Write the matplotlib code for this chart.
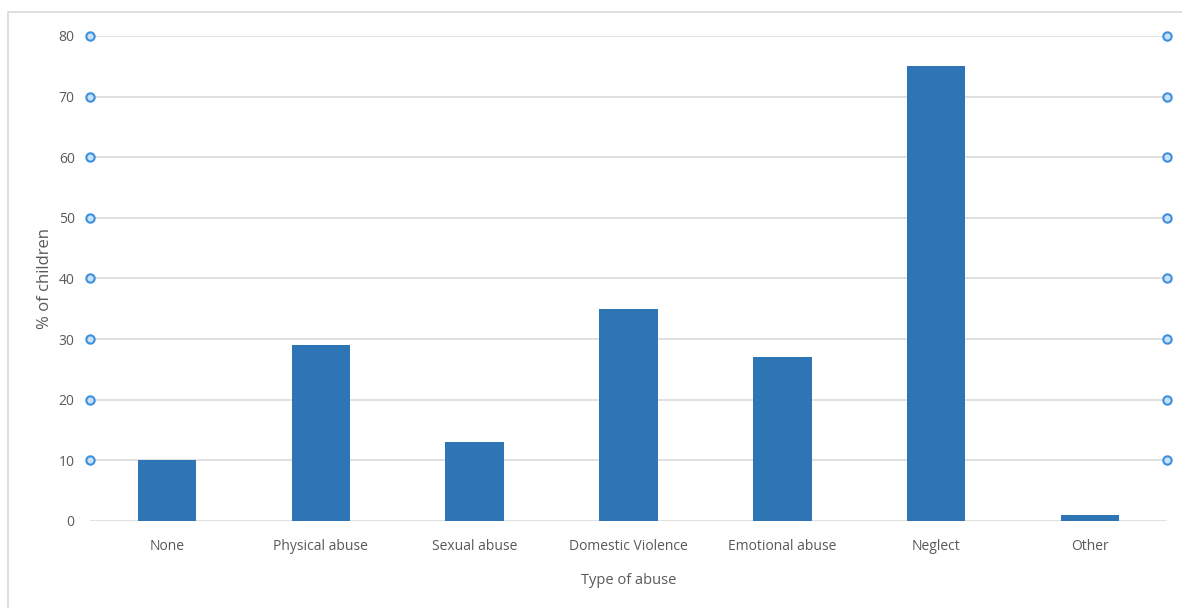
import matplotlib.pyplot as plt
from matplotlib.patches import Rectangle

plt.rcParams['font.family'] = ['Open Sans', 'DejaVu Sans']

categories = ['None', 'Physical abuse', 'Sexual abuse', 'Domestic Violence',
              'Emotional abuse', 'Neglect', 'Other']
percent = [10, 29, 13, 35, 27, 75, 1]
yticks = [0, 10, 20, 30, 40, 50, 60, 70, 80]

text_col = '#595959'
grid_col = '#d9d9d9'
bar_col = '#2e75b6'

fig = plt.figure(figsize=(11.82, 6.08), dpi=100)
ax = fig.add_axes([0.0761, 0.1431, 0.9112, 0.7977])

x = range(len(categories))
ax.bar(x, percent, width=0.38, color=bar_col, zorder=3)

ax.set_xlim(-0.5, len(categories) - 0.5)
ax.set_ylim(0, 80)
ax.set_yticks(yticks)
ax.set_xticks(list(x))
ax.set_xticklabels(categories)

for s in ax.spines.values():
    s.set_visible(False)
ax.grid(axis='y', color=grid_col, linewidth=1.1, zorder=0)
ax.tick_params(axis='both', length=0, colors=text_col, labelsize=10)
ax.tick_params(axis='y', pad=11)
ax.tick_params(axis='x', pad=13)

# round handles at both ends of the gridlines
for yv in yticks[1:]:
    ax.plot([-0.5, len(categories) - 0.5], [yv, yv], linestyle='none',
            marker='o', markersize=6, markerfacecolor='#c9e0f5',
            markeredgecolor='#3d8fe0', markeredgewidth=1.5,
            clip_on=False, zorder=4)

ax.set_xlabel('Type of abuse', color=text_col, fontsize=10.5, labelpad=14)
ax.set_ylabel('% of children', color=text_col, fontsize=12, labelpad=4)

# outer chart border
fig.patches.append(Rectangle((8 / 1182, -0.1), 1.2, 1 - 12 / 608 + 0.1,
                             transform=fig.transFigure, fill=False,
                             edgecolor=grid_col, linewidth=1.2))

fig.savefig('out.png', dpi=100)
